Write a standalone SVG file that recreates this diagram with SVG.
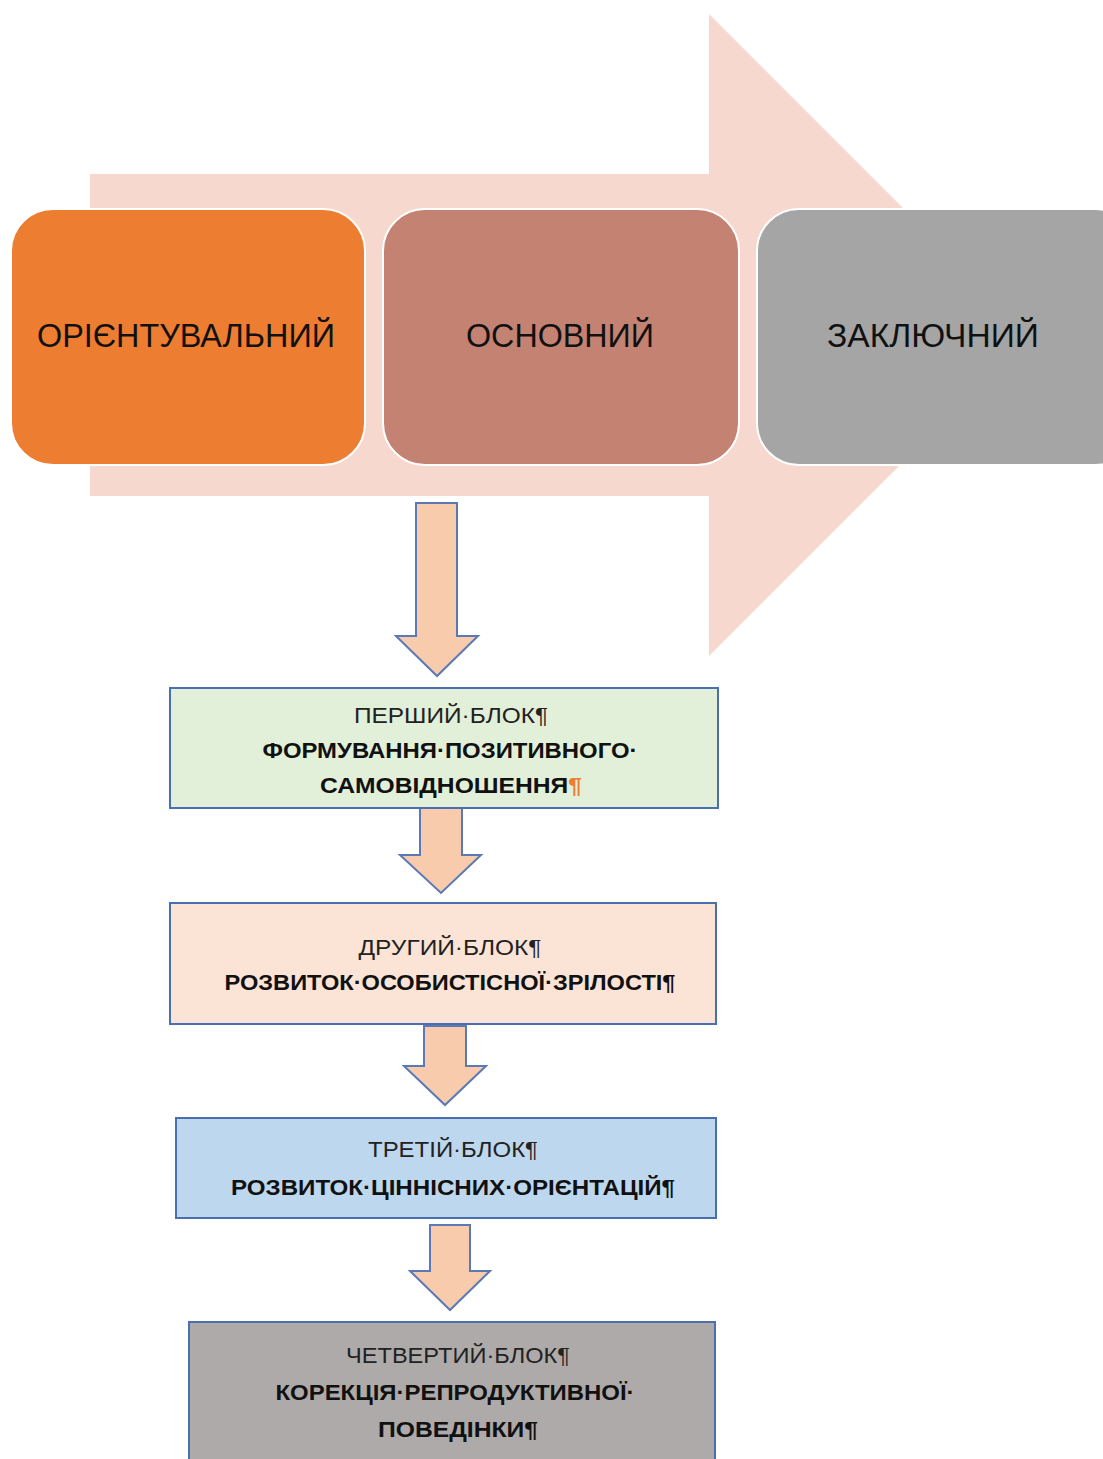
<svg xmlns="http://www.w3.org/2000/svg" width="1103" height="1459" viewBox="0 0 1103 1459">
<style>
.stage{stroke:#ffffff;stroke-width:2}
.stxt{font-family:"Liberation Sans",Arial,sans-serif;font-size:34px;fill:#111}
.blk{stroke:#4a6fb0;stroke-width:2}
.arr{fill:#f8cbad;stroke:#5b79b5;stroke-width:2;stroke-linejoin:miter}
.t1{font-family:"Liberation Sans",Arial,sans-serif;font-size:22px;fill:#222}
.t2{font-family:"Liberation Sans",Arial,sans-serif;font-size:22px;font-weight:bold;fill:#111}
</style>
<rect width="1103" height="1459" fill="#ffffff"/>
<g id="big-arrow">
<polygon points="90,174 709,174 709,14 1030,335 709,656 709,496 90,496" fill="#f7d8ce"/>
</g>
<g id="stage1">
<rect class="stage" x="11" y="209" width="354" height="256" rx="42" fill="#ed7d31"/>
<text class="stxt" x="186" y="347" text-anchor="middle" textLength="298" lengthAdjust="spacingAndGlyphs">ОРІЄНТУВАЛЬНИЙ</text>
</g>
<g id="stage2">
<rect class="stage" x="383" y="209" width="356" height="256" rx="42" fill="#c48272"/>
<text class="stxt" x="560" y="347" text-anchor="middle" textLength="188" lengthAdjust="spacingAndGlyphs">ОСНОВНИЙ</text>
</g>
<g id="stage3">
<rect class="stage" x="757" y="209" width="380" height="256" rx="42" fill="#a5a5a5"/>
<text class="stxt" x="933" y="347" text-anchor="middle" textLength="212" lengthAdjust="spacingAndGlyphs">ЗАКЛЮЧНИЙ</text>
</g>
<g id="connectors">
<polygon class="arr" points="416,503 457,503 457,636 478,636 437,676 396,636 416,636"/>
<polygon class="arr" points="420,808 462,808 462,855 481,855 441,893 400,855 420,855"/>
<polygon class="arr" points="424,1026 466,1026 466,1066 486,1066 445,1105 404,1066 424,1066"/>
<polygon class="arr" points="430,1225 470,1225 470,1271 490,1271 450,1310 410,1271 430,1271"/>
</g>
<g id="block1">
<rect class="blk" x="170" y="688" width="548" height="120" fill="#e2efd9"/>
<text class="t1" x="451" y="723" text-anchor="middle" textLength="194" lengthAdjust="spacingAndGlyphs">ПЕРШИЙ·БЛОК¶</text>
<text class="t2" x="450" y="758" text-anchor="middle" textLength="375" lengthAdjust="spacingAndGlyphs">ФОРМУВАННЯ·ПОЗИТИВНОГО·</text>
<text class="t2" x="451" y="793" text-anchor="middle" textLength="262" lengthAdjust="spacingAndGlyphs">САМОВІДНОШЕННЯ<tspan fill="#ed7d31">¶</tspan></text>
</g>
<g id="block2">
<rect class="blk" x="170" y="903" width="546" height="121" fill="#fbe4d5"/>
<text class="t1" x="450" y="955" text-anchor="middle" textLength="183" lengthAdjust="spacingAndGlyphs">ДРУГИЙ·БЛОК¶</text>
<text class="t2" x="450" y="990" text-anchor="middle" textLength="451" lengthAdjust="spacingAndGlyphs">РОЗВИТОК·ОСОБИСТІСНОЇ·ЗРІЛОСТІ¶</text>
</g>
<g id="block3">
<rect class="blk" x="176" y="1118" width="540" height="100" fill="#bdd7ee"/>
<text class="t1" x="453" y="1157" text-anchor="middle" textLength="170" lengthAdjust="spacingAndGlyphs">ТРЕТІЙ·БЛОК¶</text>
<text class="t2" x="453" y="1195" text-anchor="middle" textLength="444" lengthAdjust="spacingAndGlyphs">РОЗВИТОК·ЦІННІСНИХ·ОРІЄНТАЦІЙ¶</text>
</g>
<g id="block4">
<rect class="blk" x="189" y="1322" width="526" height="150" fill="#aeaaaa"/>
<text class="t1" x="458" y="1363" text-anchor="middle" textLength="224" lengthAdjust="spacingAndGlyphs">ЧЕТВЕРТИЙ·БЛОК¶</text>
<text class="t2" x="455" y="1400" text-anchor="middle" textLength="359" lengthAdjust="spacingAndGlyphs">КОРЕКЦІЯ·РЕПРОДУКТИВНОЇ·</text>
<text class="t2" x="458" y="1437" text-anchor="middle" textLength="160" lengthAdjust="spacingAndGlyphs">ПОВЕДІНКИ¶</text>
</g>
</svg>
